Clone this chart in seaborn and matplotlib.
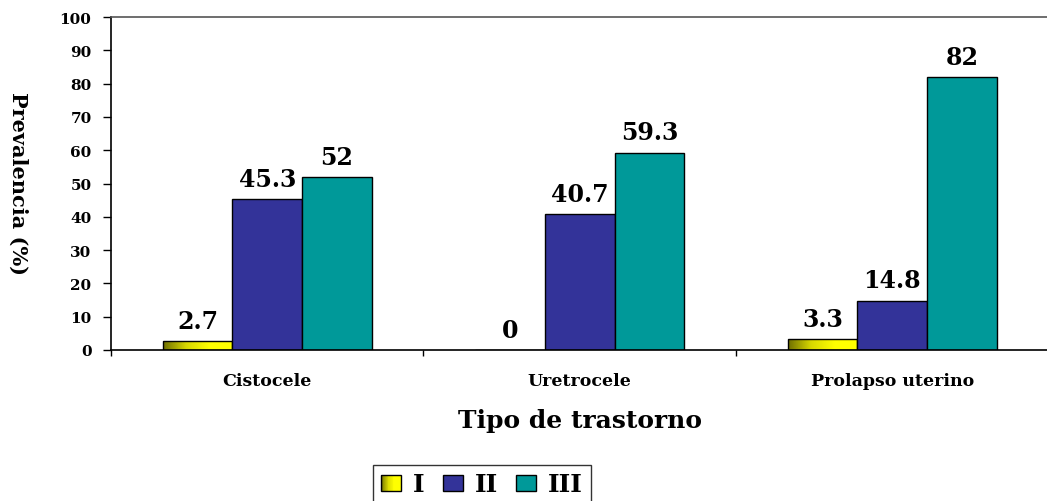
import numpy as np
import pandas as pd
import matplotlib
matplotlib.use("Agg")
import matplotlib.pyplot as plt
from matplotlib.colors import LinearSegmentedColormap
from matplotlib.legend_handler import HandlerBase
from matplotlib.patches import Rectangle
import seaborn as sns

# Data
categories = ["Cistocele", "Uretrocele", "Prolapso uterino"]
grades = ["I", "II", "III"]
grade_I = [2.7, 0, 3.3]
grade_II = [45.3, 40.7, 14.8]
grade_III = [52, 59.3, 82]
y_ticks = list(range(0, 101, 10))

colors = ["#ffff00", "#333399", "#009999"]
yellow_grad = LinearSegmentedColormap.from_list("olive_yellow", ["#6e6e00", "#d8d800", "#ffff00", "#ffff00"])

df = pd.DataFrame({
    "Tipo": categories * 3,
    "Grado": [g for g in grades for _ in categories],
    "Prevalencia": grade_I + grade_II + grade_III,
})

sns.set_style("white")
plt.rcParams["font.family"] = ["DejaVu Serif"]
plt.rcParams["font.weight"] = "bold"
for key in ["text.color", "axes.labelcolor", "xtick.color", "ytick.color"]:
    plt.rcParams[key] = "black"

fig = plt.figure(figsize=(10.47, 5.02), dpi=100)
W, H = 1047, 502
ax = fig.add_axes([111 / W, 1 - 351 / H, 937.5 / W, 333 / H])

sns.barplot(data=df, x="Tipo", y="Prevalencia", hue="Grado", order=categories,
            hue_order=grades, palette=colors, saturation=1, width=0.67, gap=0,
            edgecolor="black", linewidth=1, ax=ax, legend=True, errorbar=None)

ax.set_xlim(-0.5, 2.5)
ax.set_ylim(0, 100)

# Horizontal olive-to-yellow gradient fill on grade I bars
for patch in ax.containers[0]:
    x0, w, h = patch.get_x(), patch.get_width(), patch.get_height()
    if h > 0:
        grad = np.linspace(0, 1, 256).reshape(1, -1)
        ax.imshow(grad, extent=[x0, x0 + w, 0, h], aspect="auto", cmap=yellow_grad,
                  zorder=patch.get_zorder() - 0.01, interpolation="bilinear")
        patch.set_facecolor("none")
ax.set_xlim(-0.5, 2.5)
ax.set_ylim(0, 100)
ax.set_aspect("auto")

# Value labels above bars
for cont in ax.containers:
    ax.bar_label(cont, fmt="%g", padding=6, fontsize=17, fontweight="bold",
                 fontfamily="DejaVu Serif", color="black")

# Axes styling
for side in ["left", "bottom"]:
    ax.spines[side].set_color("black")
    ax.spines[side].set_linewidth(1.2)
ax.spines["top"].set_color("#555555")
ax.spines["top"].set_linewidth(1.2)
ax.spines["right"].set_visible(False)

ax.set_yticks(y_ticks)
ax.set_yticklabels([str(t) for t in y_ticks], fontsize=11, fontweight="bold")
ax.tick_params(axis="y", direction="out", length=6, width=1, color="black", pad=8, left=True)
ax.set_xticks(range(len(categories)))
ax.set_xticklabels(categories, fontsize=12.5, fontweight="bold")
ax.tick_params(axis="x", which="major", length=0, pad=16)
ax.set_xticks([-0.5, 0.5, 1.5, 2.5], minor=True)
ax.tick_params(axis="x", which="minor", direction="out", length=4.5, width=1, color="black", bottom=True)

ax.set_xlabel("")
ax.set_ylabel("")
fig.text(18 / W, 1 - 183 / H, "Prevalencia (%)", rotation=270, ha="center", va="center",
         fontsize=15, fontweight="bold", color="black")
fig.text(580 / W, 1 - 421 / H, "Tipo de trastorno", ha="center", va="center",
         fontsize=18, fontweight="bold", color="black")


class GradientHandler(HandlerBase):
    def create_artists(self, legend, orig_handle, xdescent, ydescent, width, height, fontsize, trans):
        n = 24
        arts = []
        for i in range(n):
            arts.append(Rectangle((-xdescent + i * width / n, -ydescent), width / n + 0.3, height,
                                  facecolor=yellow_grad(i / (n - 1)), edgecolor="none", transform=trans))
        arts.append(Rectangle((-xdescent, -ydescent), width, height, facecolor="none",
                              edgecolor="black", linewidth=1, transform=trans))
        return arts


handles, labels = ax.get_legend_handles_labels()
if ax.get_legend() is not None:
    ax.get_legend().remove()
leg = fig.legend(handles, labels, loc="upper center", bbox_to_anchor=(482 / W, 1 - 466 / H),
                 ncol=3, frameon=True, fancybox=False, edgecolor="black",
                 handlelength=0.8, handleheight=0.6, handletextpad=0.5, columnspacing=0.7,
                 borderpad=0.3, borderaxespad=0, handler_map={handles[0]: GradientHandler()},
                 prop={"family": "DejaVu Serif", "weight": "bold", "size": 18})
leg.get_frame().set_linewidth(1)
for t in leg.get_texts():
    t.set_color("black")

fig.savefig("out.png", dpi=100, facecolor="white")
